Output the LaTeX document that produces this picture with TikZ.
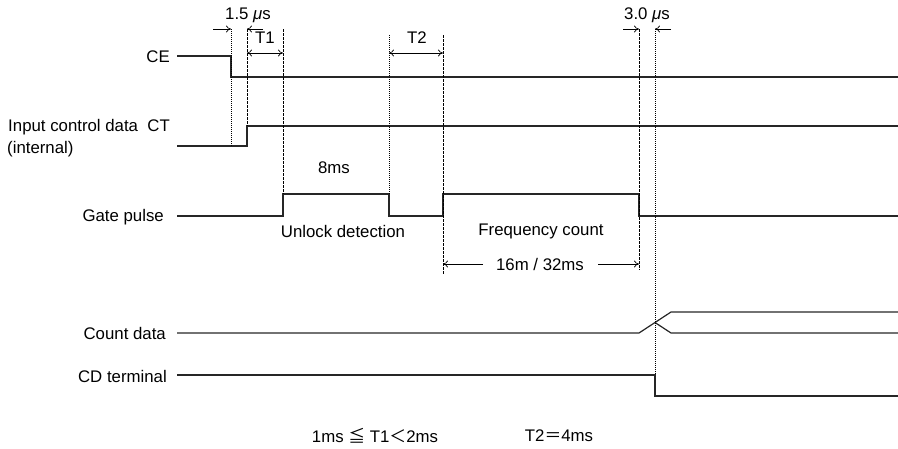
\documentclass[tikz,border=0pt]{standalone}
\usepackage{fontspec}
\setmainfont{Liberation Sans}
\newfontfamily\cjkfont{Noto Sans CJK JP}
\usetikzlibrary{arrows.meta}
\begin{document}
\begin{tikzpicture}[x=1pt,y=-1pt,
  sig/.style={line width=1.2pt, color=black!85},
  dotv/.style={line width=0.7pt, dash pattern=on 0.8pt off 1.2pt},
  dashv/.style={line width=0.7pt, dash pattern=on 2.5pt off 1.5pt},
  dim/.style={line width=0.7pt, -{To[length=5pt,width=7pt]}},
  dimb/.style={line width=0.7pt, {To[length=5pt,width=7pt]}-{To[length=5pt,width=7pt]}},
  lab/.style={font=\fontsize{16.8}{20}\selectfont, inner sep=0pt},
]
\useasboundingbox (0,0) rectangle (898,448);
% signal labels
\node[lab, anchor=east] (ce) at (170,57) {CE};
\node[lab, anchor=east] (ct) at (170,127) {Input control data\ \ CT};
\node[lab, anchor=west] (ctint) at (7,149) {(internal)};
\node[lab, anchor=east] (gp) at (164,217) {Gate pulse};
\node[lab, anchor=east] (cd) at (166,333) {Count data};
\node[lab, anchor=east] (cdt) at (167,376) {CD terminal};
% waveforms
\draw[sig] (177,56) -- (231,56) -- (231,77) -- (898,77);
\draw[sig] (177,146) -- (247,146) -- (247,126) -- (898,126);
\draw[sig] (177,216) -- (283,216) -- (283,194) -- (389,194) -- (389,216) -- (443,216) -- (443,194) -- (639,194) -- (639,216) -- (898,216);
\draw[sig] (177,333) -- (639,333) -- (671,312) -- (898,312);
\draw[sig] (655,322.5) -- (671,333) -- (898,333);
\draw[sig] (177,375) -- (655,375) -- (655,396) -- (898,396);
% guide lines
\draw[dotv] (231,29) -- (231,146);
\draw[dashv] (247,29) -- (247,126);
\draw[dashv] (283,29) -- (283,194);
\draw[dotv] (389,35) -- (389,194);
\draw[dashv] (443,35) -- (443,275);
\draw[dashv] (639,29) -- (639,270);
\draw[dotv] (655,29) -- (655,375);
% dimension arrows
\coordinate (a1) at (213,29); \coordinate (a1e) at (231,29);
\coordinate (a2) at (263,29); \coordinate (a2e) at (247,29);
\draw[dim] (a1) -- (a1e);
\draw[dim] (a2) -- (a2e);
\coordinate (t1a) at (247,53); \coordinate (t1b) at (283,53);
\draw[dimb] (t1a) -- (t1b);
\coordinate (t2a) at (389,53); \coordinate (t2b) at (443,53);
\draw[dimb] (t2a) -- (t2b);
\coordinate (b1) at (623,29); \coordinate (b1e) at (639,29);
\coordinate (b2) at (671,29); \coordinate (b2e) at (655,29);
\draw[dim] (b1) -- (b1e);
\draw[dim] (b2) -- (b2e);
\coordinate (f1) at (483,264); \coordinate (f1e) at (443,264);
\coordinate (f2) at (598,264); \coordinate (f2e) at (639,264);
\draw[dim] (f1) -- (f1e);
\draw[dim] (f2) -- (f2e);
% texts
\node[lab] (us1) at (248,15) {1.5 {\itshape μ}s};
\node[lab] (us3) at (647,15) {3.0 {\itshape μ}s};
\node[lab] (t1) at (265,38) {T1};
\node[lab] (t2) at (417,38) {T2};
\node[lab] (ms8) at (334,168) {8ms};
\node[lab] (ud) at (343,231) {Unlock detection};
\node[lab] (fc) at (541,231) {Frequency count};
\node[lab] (fm) at (540,264) {16m / 32ms};
\node[lab] (n1) at (375,436) {1ms {\cjkfont ≦} T1{\cjkfont ＜}2ms};
\node[lab] (n2) at (559,436) {T2{\cjkfont ＝}4ms};
\end{tikzpicture}
\end{document}
